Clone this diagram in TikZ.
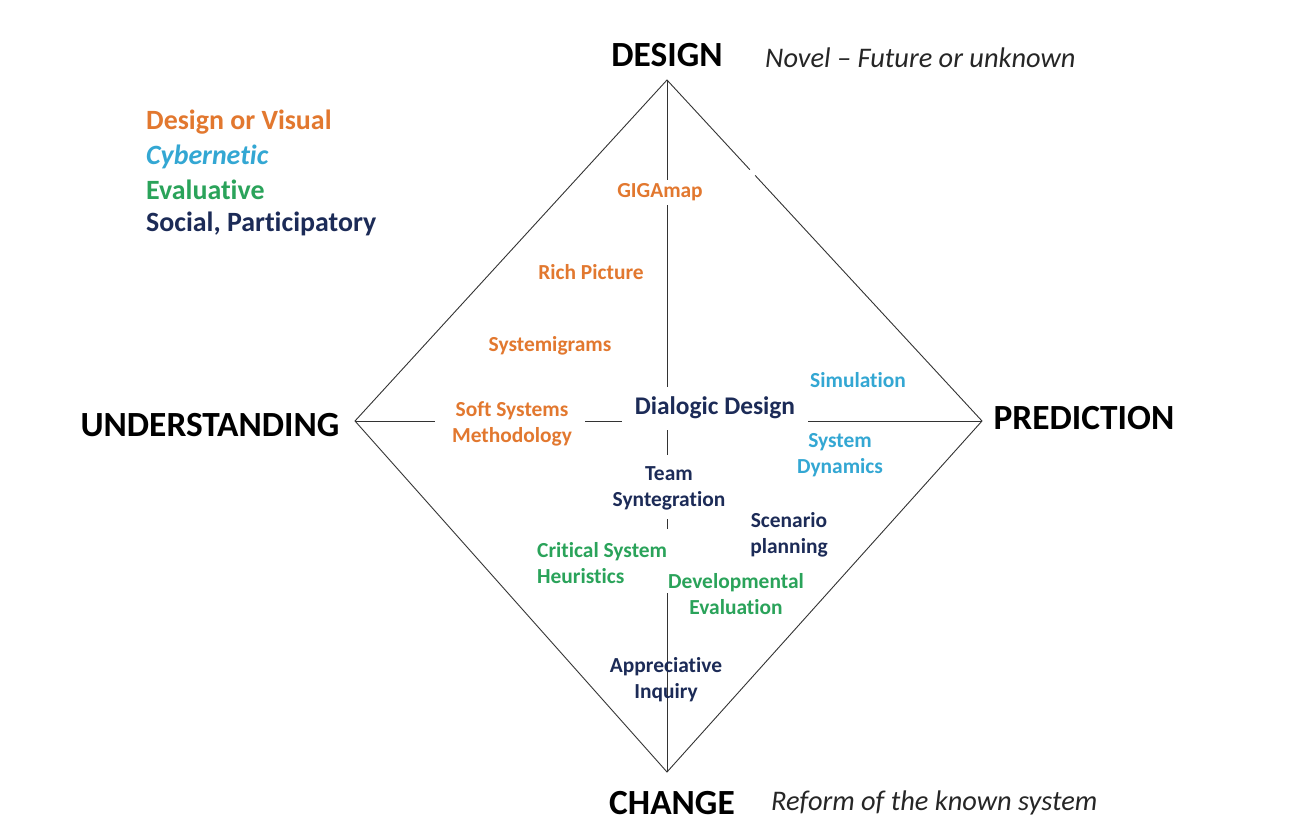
\documentclass[tikz,border=0pt]{standalone}
\usepackage{fontspec}
\setmainfont{Carlito}[Ligatures={NoCommon,NoContextual,NoRequired},Contextuals={NoAlternate}]
\usetikzlibrary{calc}
\definecolor{cOrange}{HTML}{E2782F}
\definecolor{cBlue}{HTML}{33A7D3}
\definecolor{cGreen}{HTML}{2AA35A}
\definecolor{cNavy}{HTML}{1C2B57}
\definecolor{cLine}{HTML}{333333}
\begin{document}
\begin{tikzpicture}[x=1bp,y=-1bp,
  corner/.style={font=\fontsize{35.5}{42}\selectfont\bfseries, text=black, inner sep=0pt},
  note/.style={font=\fontsize{28.5}{34}\selectfont\itshape, text=black!85, inner sep=0pt, anchor=west},
  legend/.style={font=\fontsize{28}{33}\selectfont\bfseries, inner sep=0pt, anchor=west},
  method/.style={font=\fontsize{21.5}{26}\selectfont\bfseries, inner sep=0pt, align=center},
  edge/.style={draw=cLine, line width=0.9bp}]
\path[use as bounding box] (0,0) rectangle (1298,832);
\fill[white] (0,0) rectangle (1298,832);

% corner labels
\node[corner] (design) at (667,55) {DESIGN};
\node[corner] (understanding) at (210,425) {UNDERSTANDING};
\node[corner] (prediction) at (1084,418) {PREDICTION};
\node[corner] (change) at (672,803) {CHANGE};
\node[note] (novel) at (765,58) {Novel – Future or unknown};
\node[note] (reform) at (771,803) {Reform of the known system};

% legend
\node[legend, text=cOrange] (lg1) at (146,122) {Design or Visual};
\node[legend, text=cBlue, font=\fontsize{28}{33}\selectfont\bfseries\itshape] (lg2) at (146,157) {Cybernetic};
\node[legend, text=cGreen] (lg3) at (146,190) {Evaluative};
\node[legend, text=cNavy] (lg4) at (146,224) {Social, Participatory};

% diamond vertices
\coordinate (T) at (667,80);
\coordinate (L) at (355,421);
\coordinate (R) at (982,421);
\coordinate (B) at (667,772);
\coordinate (g1) at ($(T)!0.263!(R)$);
\coordinate (g2) at ($(T)!0.28!(R)$);

\draw[edge] (g1) -- (T) -- (L) -- (B) -- (R) -- (g2);

% vertical axis segments
\coordinate (v1) at (667,180);
\coordinate (v2) at (667,205);
\coordinate (v3) at (667,387);
\coordinate (v4) at (667,430);
\coordinate (v5) at (667,455);
\coordinate (v6) at (667,519);
\coordinate (v7) at (667,529);
\coordinate (v8) at (667,593);
\draw[edge] (T) -- (v1);
\draw[edge] (v2) -- (v3);
\draw[edge] (v4) -- (v5);
\draw[edge] (v6) -- (v7);
\draw[edge] (v8) -- (B);

% horizontal axis segments
\coordinate (h1) at (435,421);
\coordinate (h2) at (585,421);
\coordinate (h3) at (622,421);
\coordinate (h4) at (808,421);
\draw[edge] (L) -- (h1);
\draw[edge] (h2) -- (h3);
\draw[edge] (h4) -- (R);

% methods
\node[method, text=cOrange] (giga) at (660,192) {GIGAmap};
\node[method, text=cOrange] (rich) at (591,272) {Rich Picture};
\node[method, text=cOrange] (sysmi) at (550,346) {Systemigrams};
\node[method, text=cOrange] (ssm) at (512,424) {Soft Systems\\Methodology};
\node[method, text=cNavy, font=\fontsize{25.5}{30}\selectfont\bfseries] (dialogic) at (715,408) {Dialogic Design};
\node[method, text=cBlue] (sim) at (858,380) {Simulation};
\node[method, text=cBlue] (sd) at (840,455) {System\\Dynamics};
\node[method, text=cNavy] (team) at (669,488) {Team\\Syntegration};
\node[method, text=cNavy] (scen) at (789,535) {Scenario\\planning};
\node[method, text=cGreen, align=left, anchor=west] (csh) at (537,563) {Critical System\\Heuristics};
\node[method, text=cGreen] (dev) at (736,594) {Developmental\\Evaluation};
\node[method, text=cNavy] (ai) at (666,680) {Appreciative\\Inquiry};
\end{tikzpicture}
\end{document}
